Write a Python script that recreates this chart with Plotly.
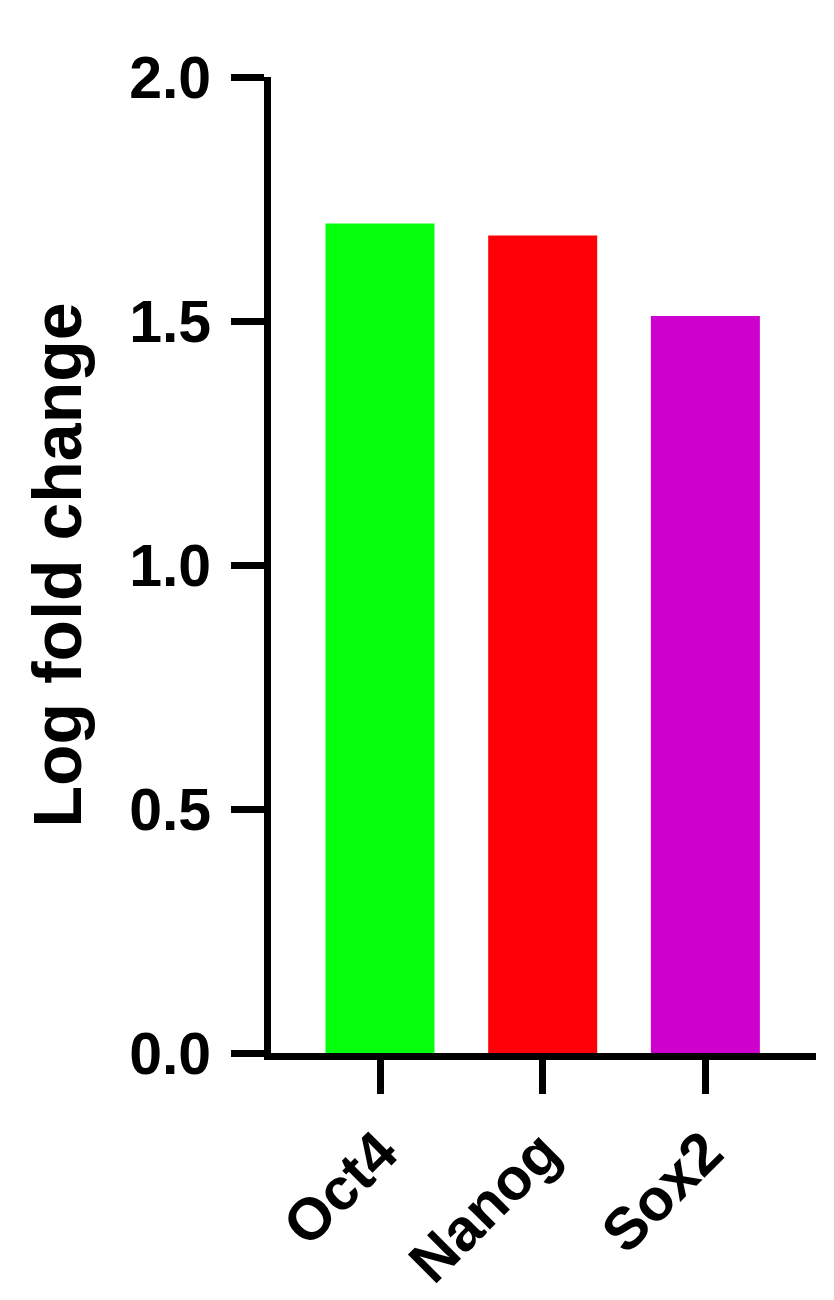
import plotly.graph_objects as go

genes = ["Oct4", "Nanog", "Sox2"]
log_fold_change = [1.70, 1.675, 1.51]
bar_colors = ["#06FF0C", "#FF0009", "#CD00CD"]
y_tick_vals = [0.0, 0.5, 1.0, 1.5, 2.0]
y_tick_text = ["0.0", "0.5", "1.0", "1.5", "2.0"]

FONT = "Liberation Sans, Arial, sans-serif"

fig = go.Figure()
fig.add_trace(go.Bar(
    x=genes,
    y=log_fold_change,
    marker=dict(color=bar_colors, line=dict(width=0)),
    width=0.67,
))

fig.update_layout(
    template="none",
    width=834,
    height=1300,
    margin=dict(l=263, r=26, t=69, b=255, pad=0),
    plot_bgcolor="white",
    paper_bgcolor="white",
    showlegend=False,
)

fig.update_xaxes(
    range=[-0.67, 2.68],
    automargin=False,
    showline=True,
    linecolor="black",
    linewidth=7,
    ticks="outside",
    ticklen=34,
    tickwidth=7,
    tickcolor="black",
    tickangle=-45,
    tickfont=dict(family=FONT, size=59, color="black", weight="bold"),
    ticklabelstandoff=0,
    showgrid=False,
    zeroline=False,
)

fig.update_yaxes(
    range=[0, 2.0],
    automargin=False,
    tickvals=y_tick_vals,
    ticktext=y_tick_text,
    showline=True,
    linecolor="black",
    linewidth=7,
    ticks="outside",
    ticklen=33,
    tickwidth=7,
    tickcolor="black",
    tickfont=dict(family=FONT, size=59, color="black", weight="bold"),
    ticklabelstandoff=8,
    showgrid=False,
    zeroline=False,
    title=dict(
        text="Log fold change",
        font=dict(family=FONT, size=68, color="black", weight="bold"),
        standoff=28,
    ),
)

fig.write_html("out.html")
